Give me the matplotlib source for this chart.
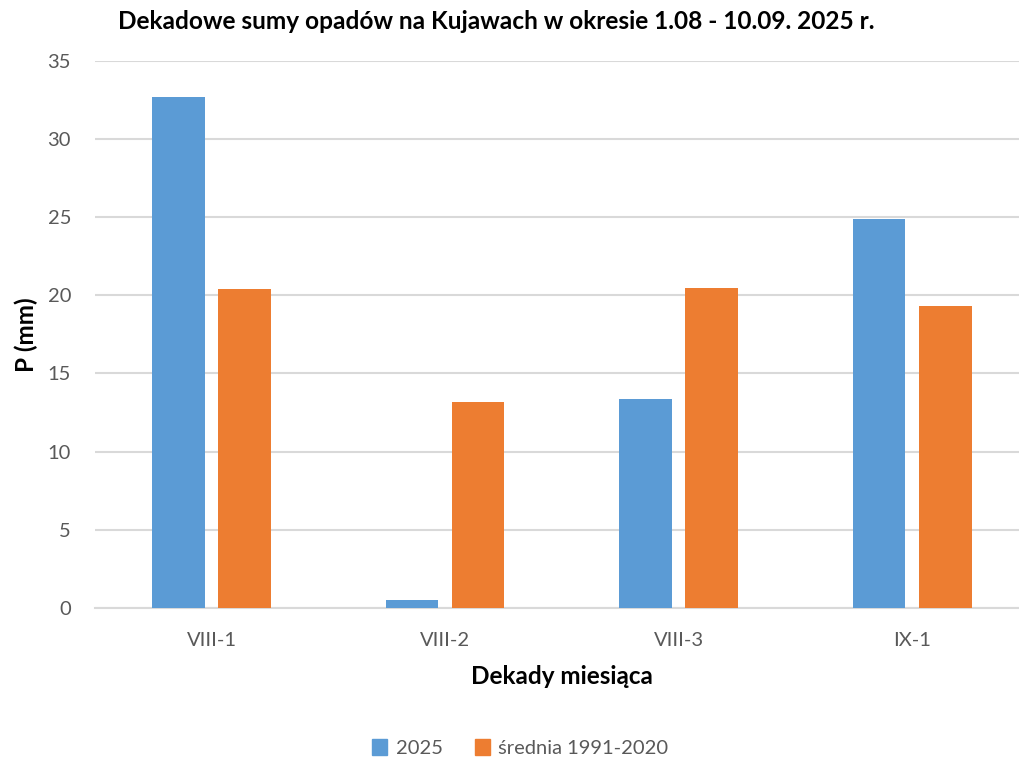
import numpy as np
import matplotlib

matplotlib.use("Agg")
import matplotlib.pyplot as plt
from matplotlib.patches import Patch

plt.rcParams["font.family"] = ["Lato", "DejaVu Sans"]

# ── Data ─────────────────────────────────────────────────────────────────────

decades = ["VIII-1", "VIII-2", "VIII-3", "IX-1"]
precip_2025 = [32.7, 0.5, 13.4, 24.9]
precip_norm = [20.4, 13.2, 20.5, 19.3]
series_labels = ["2025", "średnia 1991-2020"]

BLUE = "#5b9bd5"
ORANGE = "#ed7d31"
GRID = "#d9d9d9"
TICK = "#595959"

# ── Plot ─────────────────────────────────────────────────────────────────────

fig = plt.figure(figsize=(10.2, 7.58), dpi=100)
ax = fig.add_axes([0.0928, 0.198, 0.916, 0.7216])

x = np.arange(len(decades))
w = 0.225
off = 0.142
ax.bar(x - off, precip_2025, w, color=BLUE, zorder=3)
ax.bar(x + off, precip_norm, w, color=ORANGE, zorder=3)

ax.set_xlim(-0.5, len(decades) - 0.5)
ax.set_ylim(0, 35)
ax.set_yticks(range(0, 36, 5))
ax.set_xticks(x)
ax.set_xticklabels(decades)

ax.yaxis.grid(True, color=GRID, linewidth=1.5, zorder=0)
for s in ["top", "right", "left"]:
    ax.spines[s].set_visible(False)
ax.spines["bottom"].set_color(GRID)
ax.spines["bottom"].set_linewidth(1.5)
ax.tick_params(axis="both", length=0, labelsize=14.5, colors=TICK)
ax.tick_params(axis="y", pad=17)
ax.tick_params(axis="x", pad=17)

ax.set_ylabel("P (mm)", fontsize=17.5, fontweight="bold", labelpad=7)
ax.set_xlabel("Dekady miesiąca", fontsize=17.5, fontweight="bold", labelpad=12)

fig.text(0.487, 0.972, "Dekadowe sumy opadów na Kujawach w okresie 1.08 - 10.09. 2025 r.",
         ha="center", va="center", fontsize=17.6, fontweight="bold")

handles = [Patch(color=BLUE), Patch(color=ORANGE)]
fig.legend(handles, series_labels, loc="center", bbox_to_anchor=(0.51, 0.013),
           ncol=2, frameon=False, fontsize=14.5, handlelength=0.75, handleheight=0.8,
           handletextpad=0.4, columnspacing=1.6, labelcolor=TICK)

fig.savefig("out.png", dpi=100)
